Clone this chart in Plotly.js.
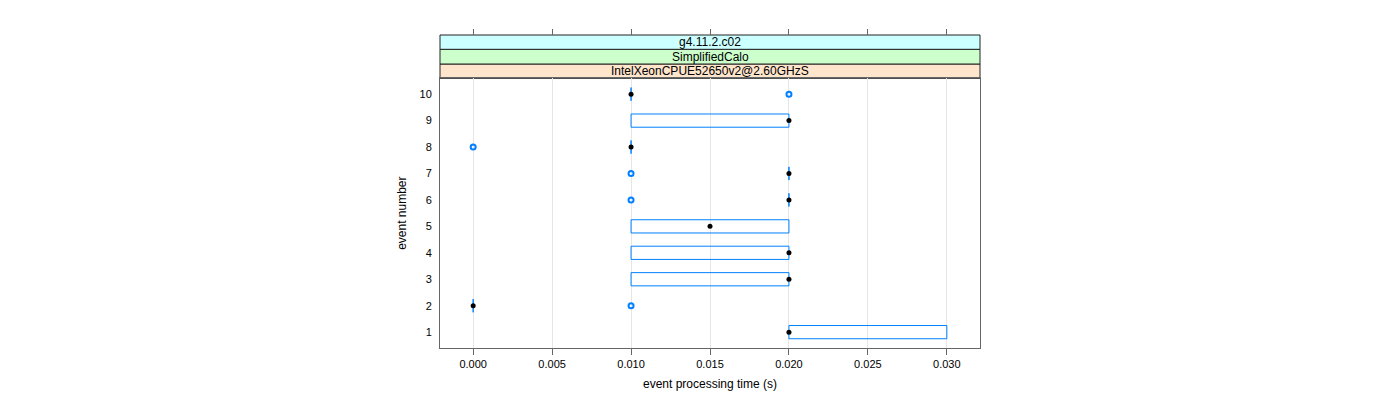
<!DOCTYPE html>
<html>
<head>
<meta charset="utf-8">
<script src="https://cdn.plot.ly/plotly-3.0.1.min.js"></script>
<style>
  html, body { margin: 0; padding: 0; background: #fff; }
  #myDiv { width: 1400px; height: 400px; }
</style>
</head>
<body>
<div id="myDiv"></div>
<script>
// one box per event: lower hinge, median, upper hinge (seconds)
var events  = [1, 2, 3, 4, 5, 6, 7, 8, 9, 10];
var q1      = [0.02, 0.00, 0.01, 0.01, 0.01,  0.02, 0.02, 0.01, 0.01, 0.01];
var medians = [0.02, 0.00, 0.02, 0.02, 0.015, 0.02, 0.02, 0.01, 0.02, 0.01];
var q3      = [0.03, 0.00, 0.02, 0.02, 0.02,  0.02, 0.02, 0.01, 0.02, 0.01];

// outlying measurements
var outEvent = [2, 6, 7, 8, 10];
var outTime  = [0.01, 0.01, 0.01, 0.00, 0.02];

var xTicks = [0, 0.005, 0.01, 0.015, 0.02, 0.025, 0.03];
var xTickText = ['0.000', '0.005', '0.010', '0.015', '0.020', '0.025', '0.030'];

var strips = ['IntelXeonCPUE52650v2@2.60GHzS', 'SimplifiedCalo', 'g4.11.2.c02'];
var stripCols = ['#ffe5cc', '#ccffcc', '#ccffff'];

var blue = '#0080ff';
var half = 0.25;

// box outlines
var bx = [], by = [];
for (var i = 0; i < events.length; i++) {
    var e = events[i];
    bx.push(q1[i], q3[i], q3[i], q1[i], q1[i], null);
    by.push(e - half, e - half, e + half, e + half, e - half, null);
}

var boxes = {
    x: bx, y: by,
    mode: 'lines',
    line: {color: blue, width: 1},
    hoverinfo: 'skip',
    showlegend: false
};

var dots = {
    x: medians, y: events,
    mode: 'markers',
    marker: {color: 'black', size: 5},
    showlegend: false
};

var outs = {
    x: outTime, y: outEvent,
    mode: 'markers',
    marker: {symbol: 'circle-open', color: blue, size: 5, line: {width: 2, color: blue}},
    showlegend: false
};

// empty trace so the top tick axis is drawn
var topAxis = {x: [], y: [], xaxis: 'x2', yaxis: 'y', mode: 'markers', showlegend: false, hoverinfo: 'skip'};

var panelTop = 0.8617;
var stripEdges = [panelTop, 0.9073, 0.9543, 1.0];

var shapes = [];
var annotations = [];
for (var s = 0; s < strips.length; s++) {
    shapes.push({
        type: 'rect', xref: 'paper', yref: 'paper',
        x0: 0, x1: 1, y0: stripEdges[s], y1: stripEdges[s + 1],
        fillcolor: stripCols[s], line: {color: '#222', width: 1}, layer: 'below'
    });
    annotations.push({
        xref: 'paper', yref: 'paper', x: 0.5, y: (stripEdges[s] + stripEdges[s + 1]) / 2,
        text: strips[s], showarrow: false,
        font: {family: 'Liberation Sans, Arial, sans-serif', size: 12, color: 'black'},
        xanchor: 'center', yanchor: 'middle'
    });
}

var xr = [-0.0021, 0.0321];

var layout = {
    width: 1400, height: 400,
    margin: {l: 440, r: 420, t: 35, b: 52},
    paper_bgcolor: 'white',
    plot_bgcolor: 'white',
    font: {family: 'Liberation Sans, Arial, sans-serif', size: 11, color: 'black'},
    xaxis: {
        range: xr,
        tickvals: xTicks, ticktext: xTickText,
        ticks: 'outside', ticklen: 6, tickcolor: '#666',
        showgrid: true, gridcolor: '#e6e6e6', gridwidth: 1,
        zeroline: false,
        showline: true, linecolor: '#666', linewidth: 1, mirror: true,
        title: {text: 'event processing time (s)', font: {size: 12}, standoff: 10}
    },
    xaxis2: {
        range: xr, overlaying: 'x', side: 'top', anchor: 'free', position: 1,
        tickvals: xTicks, showticklabels: false,
        ticks: 'outside', ticklen: 6, tickcolor: '#666',
        showgrid: false, zeroline: false, showline: false
    },
    yaxis: {
        domain: [0, panelTop],
        range: [0.4, 10.6],
        tickvals: events,
        ticks: '', ticklabelstandoff: 5,
        showgrid: false, zeroline: false,
        showline: true, linecolor: '#666', linewidth: 1, mirror: true,
        title: {text: 'event number', font: {size: 12}, standoff: 10}
    },
    shapes: shapes,
    annotations: annotations
};

Plotly.newPlot('myDiv', [boxes, dots, outs, topAxis], layout, {staticPlot: true});
</script>
</body>
</html>
